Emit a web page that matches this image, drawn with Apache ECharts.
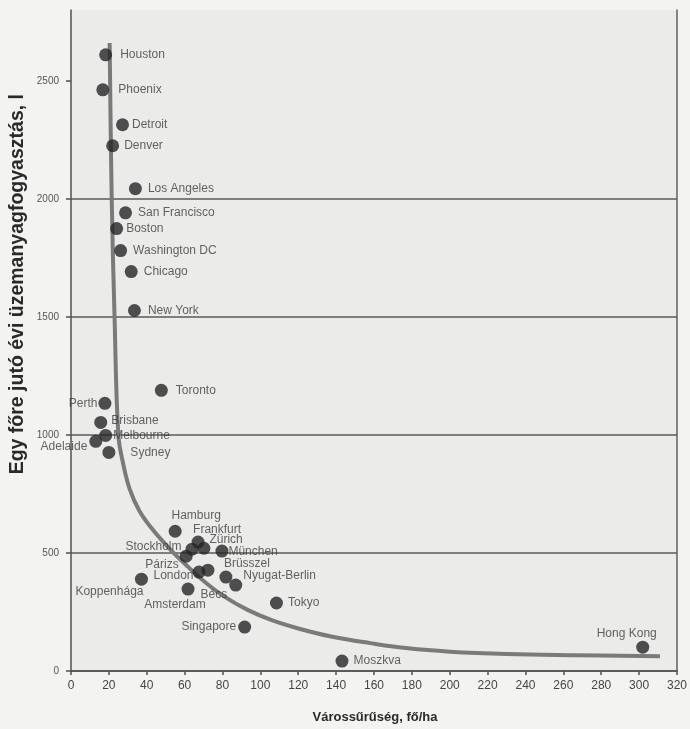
<!DOCTYPE html>
<html>
<head>
<meta charset="utf-8">
<title>Városűrűség és üzemanyagfogyasztás</title>
<script src="https://cdn.jsdelivr.net/npm/echarts@6/dist/echarts.min.js"></script>
<style>
  html, body { margin: 0; padding: 0; background: #f3f3f2; }
  #chart { width: 690px; height: 729px; }
</style>
</head>
<body>
<div id="chart"></div>
<script>
// városok adatai
const cities = ['Houston', 'Phoenix', 'Detroit', 'Denver', 'Los Angeles', 'San Francisco', 'Boston',
  'Washington DC', 'Chicago', 'New York', 'Toronto', 'Perth', 'Brisbane', 'Melbourne', 'Adelaide',
  'Sydney', 'Hamburg', 'Frankfurt', 'Zürich', 'Stockholm', 'Párizs', 'München', 'London', 'Bécs',
  'Brüsszel', 'Nyugat-Berlin', 'Koppenhága', 'Amsterdam', 'Tokyo', 'Singapore', 'Moszkva', 'Hong Kong'];
const density = [18.3, 16.8, 27.2, 22.0, 34.0, 28.8, 24.1,
  26.2, 31.8, 33.5, 47.7, 17.9, 15.7, 18.3, 13.1,
  20.0, 55.0, 67.1, 70.2, 63.9, 60.8, 79.7, 67.6, 72.3,
  81.8, 87.0, 37.2, 61.8, 108.5, 91.7, 143.1, 301.9];
const fuel = [2610, 2462, 2314, 2225, 2043, 1941, 1874,
  1781, 1692, 1527, 1189, 1134, 1053, 998, 973,
  926, 592, 546, 520, 516, 486, 508, 419, 427,
  398, 364, 389, 347, 288, 186, 42, 101];

// trendgörbe
const curveX = [20.4, 21.5, 23.0, 25.0, 27.5, 31, 36, 43, 53, 62, 71, 81, 93, 106, 120, 138, 158, 178, 200, 230, 265, 311];
const curveY = [2660, 2000, 1500, 1000, 880, 770, 680, 600, 510, 440, 375, 315, 260, 215, 180, 145, 118, 96, 82, 72, 67, 63];

const yTicks = [0, 500, 1000, 1500, 2000, 2500];

// címkék elhelyezése
const labelPos = {
  'Houston': ['right', [3, 0]],
  'Phoenix': ['right', [4, 0]],
  'Detroit': ['right', [-2, 0]],
  'Los Angeles': ['right', [1, 0]],
  'San Francisco': ['right', [1, 0]],
  'Boston': ['right', [-2, 0]],
  'Washington DC': ['right', [1, 0]],
  'Chicago': ['right', [1, 0]],
  'New York': ['right', [2, 0]],
  'Toronto': ['right', [3, 0]],
  'Perth': ['left', [4, 0]],
  'Brisbane': ['right', [-1, -2]],
  'Melbourne': ['right', [-4, 0]],
  'Adelaide': ['left', [3, 5]],
  'Sydney': ['right', [10, 0]],
  'Hamburg': ['top', [21, 2]],
  'Frankfurt': ['top', [19, 5]],
  'Zürich': ['right', [-6, -9]],
  'Stockholm': ['left', [1, -2]],
  'Párizs': ['left', [4, 8]],
  'München': ['right', [-5, 1]],
  'London': ['left', [6, 4]],
  'Bécs': ['bottom', [6, 7]],
  'Brüsszel': ['top', [21, 4]],
  'Nyugat-Berlin': ['right', [-4, -9]],
  'Koppenhága': ['bottom', [-32, -5]],
  'Amsterdam': ['bottom', [-13, -2]],
  'Singapore': ['left', [3, 0]],
  'Hong Kong': ['top', [-16, 4]]
};

let points = cities.map((name, i) => {
  let p = labelPos[name] || ['right', [0, 0]];
  return {
    name: name,
    value: [density[i], fuel[i]],
    label: { position: p[0], offset: p[1] }
  };
});

let chart = echarts.init(document.getElementById('chart'));

let option = {
  backgroundColor: '#f3f3f2',
  animation: false,
  textStyle: { fontFamily: 'Liberation Sans, Arial, sans-serif' },
  grid: {
    left: 71,
    right: 8,
    top: 10,
    bottom: 57,
    show: true,
    backgroundColor: '#ebebea',
    borderWidth: 0
  },
  xAxis: {
    type: 'value',
    min: 0,
    max: 320,
    interval: 20,
    name: 'Várossűrűség, fő/ha',
    nameLocation: 'middle',
    nameGap: 40,
    nameTextStyle: { color: '#2a2a2a', fontSize: 13, fontWeight: 'bold', padding: [0, 0, 0, 2] },
    axisLine: { lineStyle: { color: '#505050', width: 1.5 } },
    axisTick: { show: true, length: 4, lineStyle: { color: '#505050', width: 1.5 } },
    axisLabel: { color: '#454545', fontSize: 12, margin: 9 },
    splitLine: { show: false }
  },
  yAxis: [
    {
      type: 'value',
      min: 0,
      max: 2800,
      interval: 500,
      axisLine: { show: true, lineStyle: { color: '#505050', width: 1.5 } },
      axisTick: { show: true, length: 5, customValues: yTicks, lineStyle: { color: '#505050', width: 1.5 } },
      axisLabel: { color: '#555', fontSize: 10, margin: 12, customValues: yTicks, formatter: v => String(v) },
      splitLine: { show: true, showMaxLine: false, lineStyle: { color: '#5a5a5a', width: 1.5 } }
    },
    {
      // jobb oldali keret
      type: 'value',
      position: 'right',
      min: 0,
      max: 2800,
      axisLine: { show: true, lineStyle: { color: '#606060', width: 1.5 } },
      axisTick: { show: false },
      axisLabel: { show: false },
      splitLine: { show: false }
    }
  ],
  graphic: [
    {
      type: 'text',
      left: 8,
      top: 94,
      rotation: Math.PI / 2,
      style: {
        text: 'Egy főre jutó évi üzemanyagfogyasztás, l',
        font: 'bold 19.5px Liberation Sans, Arial, sans-serif',
        fill: '#2a2a2a'
      }
    }
  ],
  series: [
    {
      name: 'trend',
      type: 'line',
      data: curveX.map((x, i) => [x, curveY[i]]),
      smooth: 0.4,
      showSymbol: false,
      lineStyle: { color: '#7a7a7a', width: 4 },
      z: 2
    },
    {
      name: 'városok',
      type: 'scatter',
      data: points,
      symbolSize: 13,
      itemStyle: { color: '#262626' },
      label: {
        show: true,
        formatter: '{b}',
        color: '#3c3c3c',
        fontSize: 12,
        distance: 5
      },
      z: 3
    }
  ]
};

chart.setOption(option);
</script>
</body>
</html>
